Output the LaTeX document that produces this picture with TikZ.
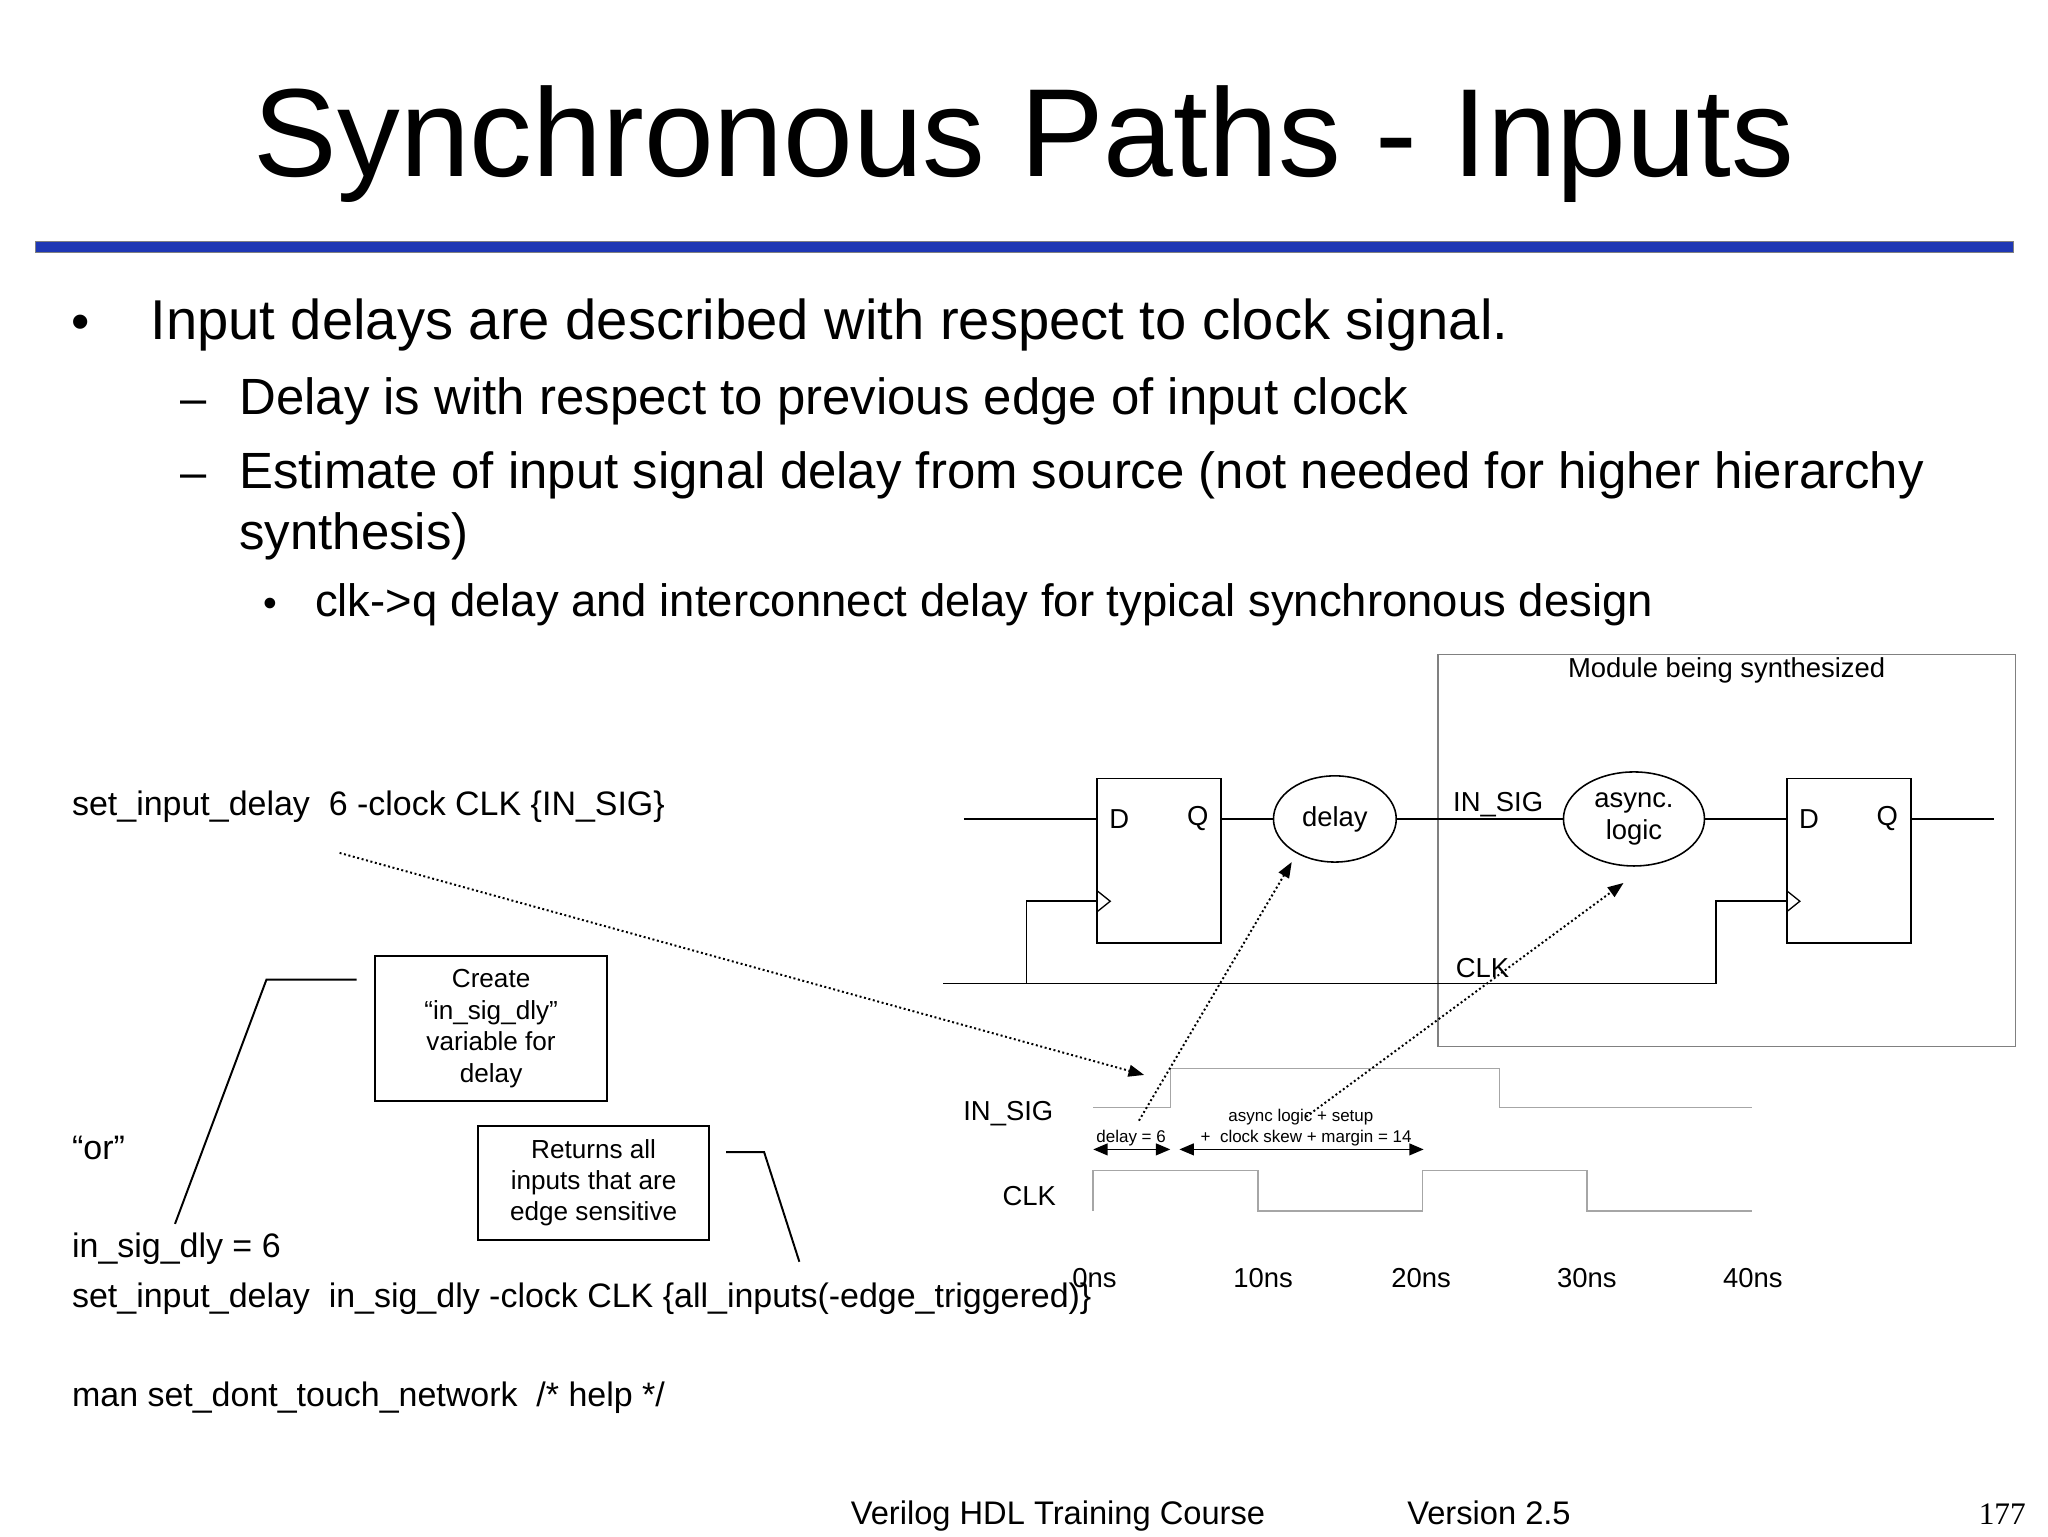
\documentclass[tikz,border=0pt]{standalone}
\usepackage{fontspec}
\setmainfont{Liberation Sans}
\newfontfamily\seriffont{Liberation Serif}
\usetikzlibrary{arrows.meta,shapes.geometric}
\begin{document}
\begin{tikzpicture}[x=1pt,y=-1pt,
  wire/.style={line width=1.2pt},
  wave/.style={gray!70,line width=1.2pt},
  dots/.style={dotted,line width=1.5pt,-{Triangle[length=12pt,width=9pt]}},
  dbl/.style={line width=1.3pt,{Triangle[length=11pt,width=9pt]}-{Triangle[length=11pt,width=9pt]}},
  ff/.style={draw,line width=1.2pt,minimum width=95pt,minimum height=126pt,inner sep=0pt},
  bubble/.style={draw,ellipse,line width=1.2pt,inner sep=0pt},
  callbox/.style={draw,line width=1.5pt,inner sep=0pt,align=center,font=\fontsize{20}{24}\selectfont},
  code/.style={anchor=base west,inner sep=0pt,font=\fontsize{26}{30}\selectfont},
  txt/.style={anchor=base west,inner sep=0pt},
  lbl/.style={font=\fontsize{21}{25}\selectfont},
  tm/.style={font=\fontsize{21}{25}\selectfont,anchor=base}]
\useasboundingbox (0,0) rectangle (1568,1176);
\fill[white] (0,0) rectangle (1568,1176);
% title
\node[anchor=base,font=\fontsize{96}{110}\selectfont] (title) at (784,135) {Synchronous Paths - Inputs};
\draw[fill={rgb,255:red,30;green,55;blue,180},draw=gray] (27,185) rectangle (1541,193);
% bullets
\node[anchor=base,font=\fontsize{40}{48}\selectfont] (b1) at (62,260) {•};
\node[txt,font=\fontsize{43}{50}\selectfont] (t1) at (115,260) {Input delays are described with respect to clock signal.};
\node[anchor=base,font=\fontsize{36}{44}\selectfont] (b2) at (148,317) {–};
\node[txt,font=\fontsize{39}{46}\selectfont] (t2) at (183,317) {Delay is with respect to previous edge of input clock};
\node[anchor=base,font=\fontsize{36}{44}\selectfont] (b3) at (148,374) {–};
\node[txt,font=\fontsize{39}{46}\selectfont] (t3) at (183,374) {Estimate of input signal delay from source (not needed for higher hierarchy};
\node[txt,font=\fontsize{39}{46}\selectfont] (t3b) at (183,421) {synthesis)};
\node[anchor=base,font=\fontsize{30}{36}\selectfont] (b4) at (207,472) {•};
\node[txt,font=\fontsize{34.8}{40}\selectfont] (t4) at (241,472) {clk->q delay and interconnect delay for typical synchronous design};
% module box
\draw[gray,line width=1pt] (1101,501) rectangle (1543,801);
\node[lbl] (mod) at (1322,513) {Module being synthesized};
% flip-flops
\node[ff] (ff1) at (887.5,659) {};
\node[ff] (ff2) at (1415.5,659) {};
\node[lbl] at (857,627) {D};\node[lbl] at (917,627) {Q};
\node[lbl] at (1385,627) {D};\node[lbl] at (1445,627) {Q};
\draw[line width=1pt] (840,682) -- (850,690) -- (840,698);
\draw[line width=1pt] (1368,682) -- (1378,690) -- (1368,698);
\node[bubble,minimum width=94pt,minimum height=66pt,lbl] (dly) at (1022,627) {delay};
\node[bubble,minimum width=108pt,minimum height=72pt,align=center,font=\fontsize{21}{24}\selectfont] (async) at (1251,627) {async.\\logic};
\coordinate (in) at (738,627);
\coordinate (out) at (1527,627);
\draw[wire] (in) -- (ff1.west|-in);
\draw[wire] (ff1.east|-in) -- (dly.west);
\draw[wire] (dly.east) -- (async.west);
\draw[wire] (async.east) -- (ff2.west|-in);
\draw[wire] (ff2.east|-in) -- (out);
\node[lbl] (insig) at (1147,616) {IN\_SIG};
\node[lbl] (clkl) at (1135,741) {CLK};
\coordinate (c0) at (722,753);
\draw[wire] (c0) -- (1314,753) -- (1314,690) -- (1368,690);
\draw[wire] (786,753) -- (786,690) -- (840,690);
% timing
\node[lbl] (tin) at (772,853) {IN\_SIG};
\node[lbl] (tclk) at (788,916) {CLK};
\draw[wave] (837,848) -- (896,848) -- (896,818) -- (1148,818) -- (1148,848) -- (1341,848);
\draw[wave] (837,927) -- (837,896) -- (963,896) -- (963,927) -- (1089,927) -- (1089,896) -- (1215,896) -- (1215,927) -- (1341,927);
\coordinate (a1) at (837,880);\coordinate (a2) at (896,880);
\coordinate (a3) at (903,880);\coordinate (a4) at (1090,880);
\draw[dbl] (a1) -- (a2);
\draw[dbl] (a3) -- (a4);
\node[font=\fontsize{13}{15}\selectfont] (dl6) at (866,871) {delay = 6};
\node[font=\fontsize{13}{15}\selectfont] (al1) at (996,855) {async logic + setup};
\node[font=\fontsize{13}{15}\selectfont] (al2) at (1000,871) {+\ \ clock skew + margin = 14};
\node[tm] at (838,986) {0ns};
\node[tm] at (967,986) {10ns};
\node[tm] at (1088,986) {20ns};
\node[tm] at (1215,986) {30ns};
\node[tm] at (1342,986) {40ns};
% dotted arrows
\coordinate (d0) at (260,653);\coordinate (d1) at (876,823);
\draw[dots] (d0) -- (d1);
\coordinate (e0) at (872,858);\coordinate (e1) at (989,660);
\draw[dots] (e0) -- (e1);
\coordinate (f0) at (1000,855);\coordinate (f1) at (1243,676);
\draw[dots] (f0) -- (f1);
% code text
\node[code] (c1) at (55,624) {set\_input\_delay\ \ 6 -clock CLK \{IN\_SIG\}};
\node[code] (c2) at (55,888) {“or”};
\node[code] (c3) at (55,963) {in\_sig\_dly = 6};
\node[code] (c4) at (55,1001) {set\_input\_delay\ \ in\_sig\_dly -clock CLK \{all\_inputs(-edge\_triggered)\}};
\node[code] (c5) at (55,1077) {man set\_dont\_touch\_network\ \ /* help */};
% callouts
\node[callbox,minimum width=178pt,minimum height=111pt] (bx1) at (376,787.5) {Create\\“in\_sig\_dly”\\variable for\\delay};
\node[callbox,minimum width=177pt,minimum height=87pt] (bx2) at (454.5,905.5) {Returns all\\inputs that are\\edge sensitive};
\coordinate (l1) at (273,750);\coordinate (l2) at (204,750);\coordinate (l3) at (134,937);
\draw[line width=1.5pt] (l1) -- (l2) -- (l3);
\coordinate (m1) at (556,882);\coordinate (m2) at (585,882);\coordinate (m3) at (612,966);
\draw[line width=1.5pt] (m1) -- (m2) -- (m3);
% footer
\node[anchor=base,font=\fontsize{25}{30}\selectfont] (ft1) at (810,1167) {Verilog HDL Training Course};
\node[anchor=base,font=\fontsize{25}{30}\selectfont] (ft2) at (1140,1167) {Version 2.5};
\node[anchor=base,font=\seriffont\fontsize{24}{28}\selectfont] (ft3) at (1533,1167) {177};
\end{tikzpicture}
\end{document}
